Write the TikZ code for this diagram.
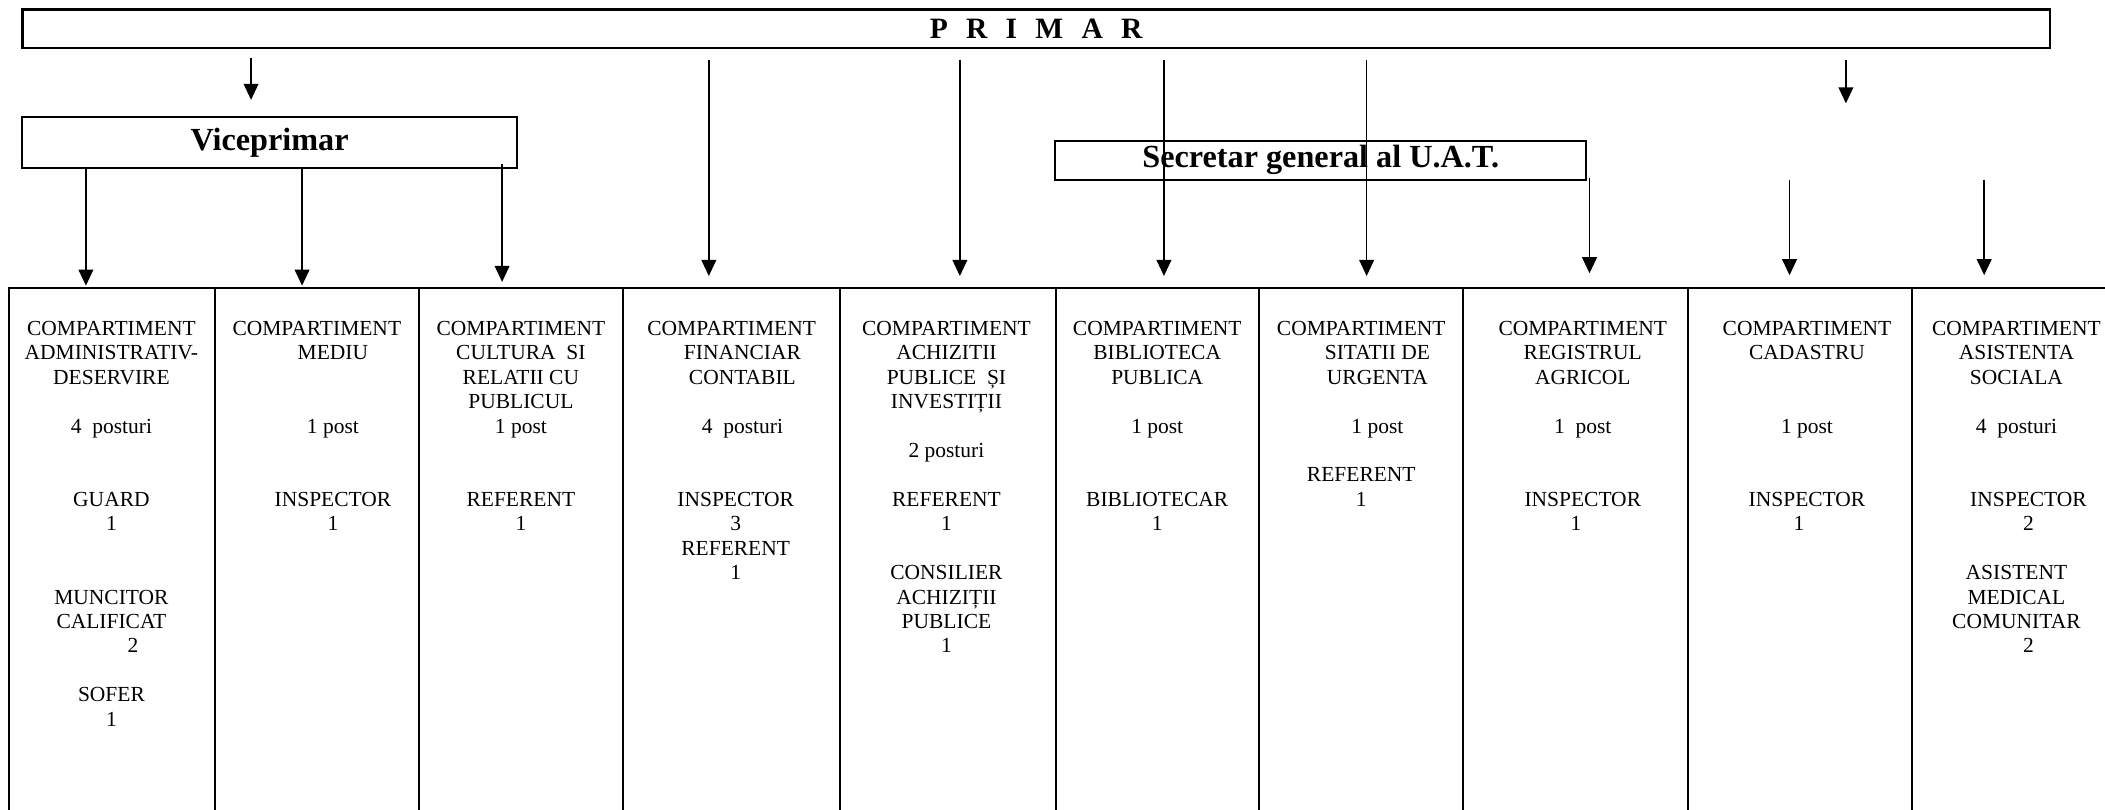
\documentclass[tikz,border=0pt]{standalone}
\usepackage{fontspec}
\setmainfont{Liberation Serif}
\usetikzlibrary{arrows.meta}

\begin{document}
\begin{tikzpicture}[
    x=0.5pt, y=-0.5pt, >={Triangle[length=6pt, width=5.5pt]},
    box/.style={draw, line width=0.8pt, inner sep=0pt, font=\fontsize{12}{14}\selectfont\bfseries},
    col/.style={draw, line width=0.75pt, anchor=north, minimum height=215pt, inner sep=0pt},
    txt/.style={anchor=north, align=center, inner sep=0pt, font=\fontsize{8}{9.1}\selectfont},
    link/.style={->, line width=0.6pt}
]
    \useasboundingbox (0,0) rectangle (1568,603);

    % Columns
    \foreach \l/\r [count=\i] in {6.6/160, 160/312, 312/464, 464/625.5, 625.5/786.5, 786.5/938, 938/1090, 1090/1257, 1257/1424, 1424/1590}
        \node[col, minimum width={(\r-\l)*0.5pt}] (c\i) at ({(\l+\r)/2},214) {};

    % Texts of the columns
    \node[txt] (t1) at (83,238.8) {COMPARTIMENT\\ADMINISTRATIV-\\DESERVIRE\\~\\4~~posturi\\~\\~\\GUARD\\1\\~\\~\\MUNCITOR\\CALIFICAT\\\hspace*{16pt}2\\~\\SOFER\\1};
    \node[txt] (t2) at (236,238.8) {COMPARTIMENT\\\hspace*{12pt}MEDIU\\~\\~\\\hspace*{12pt}1 post\\~\\~\\\hspace*{12pt}INSPECTOR\\\hspace*{12pt}1};
    \node[txt] (t3) at (388,238.8) {COMPARTIMENT\\CULTURA~ SI\\RELATII CU\\PUBLICUL\\1 post\\~\\~\\REFERENT\\1};
    \node[txt] (t4) at (545,238.8) {COMPARTIMENT\\\hspace*{8pt}FINANCIAR\\\hspace*{8pt}CONTABIL\\~\\\hspace*{8pt}4~~posturi\\~\\~\\\hspace*{3pt}INSPECTOR\\\hspace*{3pt}3\\\hspace*{3pt}REFERENT\\\hspace*{3pt}1};
    \node[txt] (t5) at (705,238.8) {COMPARTIMENT\\ACHIZITII\\PUBLICE~~ȘI\\INVESTIȚII\\~\\2 posturi\\~\\REFERENT\\1\\~\\CONSILIER\\ACHIZIȚII\\PUBLICE\\1};
    \node[txt] (t6) at (862,238.8) {COMPARTIMENT\\BIBLIOTECA\\PUBLICA\\~\\1 post\\~\\~\\BIBLIOTECAR\\1};
    \node[txt] (t7) at (1014,238.8) {COMPARTIMENT\\\hspace*{12pt}SITATII DE\\\hspace*{12pt}URGENTA\\~\\\hspace*{12pt}1 post\\~\\REFERENT\\1};
    \node[txt] (t8) at (1179,238.8) {COMPARTIMENT\\REGISTRUL\\AGRICOL\\~\\1~~post\\~\\~\\INSPECTOR\\1\hspace*{5pt}};
    \node[txt] (t9) at (1346,238.8) {COMPARTIMENT\\CADASTRU\\~\\~\\1 post\\~\\~\\INSPECTOR\\1\hspace*{6pt}};
    \node[txt] (t10) at (1502,238.8) {COMPARTIMENT\\ASISTENTA\\SOCIALA\\~\\4~~posturi\\~\\~\\\hspace*{9pt}INSPECTOR\\\hspace*{9pt}2\\~\\ASISTENT\\MEDICAL\\COMUNITAR\\\hspace*{9pt}2};

    % Heads
    \node[box, line width=0.9pt, minimum width=755pt, minimum height=14.3pt, font=\fontsize{11}{13}\selectfont\bfseries] (primar) at (771.8,21.3) {\spaceskip=6.8pt P R I M A R};
    \node[box, minimum width=184.2pt, minimum height=18.8pt] (vice) at (200.8,106.2) {Viceprimar};
    \node[box, minimum width=197.8pt, minimum height=14.6pt] (secr) at (983.8,119.4) {Secretar general al U.A.T.};
    \coordinate (free) at (1375,77);

    % From Primar
    \path (primar.south -| 187,0) edge[link, shorten <=3.5pt, shorten >=6.1pt] (vice.north -| 187,0);
    \foreach \x/\c in {528/c4, 715/c5, 867/c6, 1018/c7}
        \path (primar.south -| \x,0) edge[link, shorten <=4pt, shorten >=4.2pt] (\c.north -| \x,0);
    \path (primar.south -| free) edge[link, shorten <=4pt] (free);

    % From Viceprimar
    \path (vice.south -| 64,0) edge[link, shorten >=0.6pt] (c1.north -| 64,0)
          (vice.south -| 225,0) edge[link, shorten >=0.6pt] (c2.north -| 225,0)
          (vice.south -| 374,0) edge[link, shorten <=-2pt, shorten >=2pt] (c3.north -| 374,0);

    % From Secretar
    \path (secr.south -| 1184,0) edge[link, shorten <=-1.2pt, shorten >=5.2pt] (c8.north -| 1184,0);
    \foreach \x/\c in {1333/c9, 1478/c10}
        \path (secr.south -| \x,0) edge[link, shorten <=-0.5pt, shorten >=4.5pt] (\c.north -| \x,0);

\end{tikzpicture}
\end{document}
